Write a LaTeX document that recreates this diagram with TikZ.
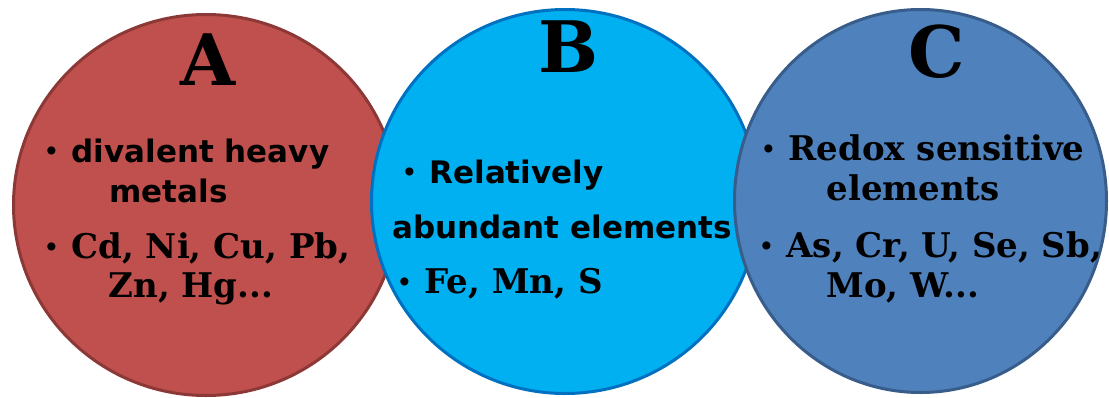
\documentclass[tikz,border=0pt]{standalone}
\usepackage{fontspec}
\setmainfont{DejaVu Serif}
\setsansfont{DejaVu Sans}
\usetikzlibrary{shapes.geometric}
\definecolor{afill}{HTML}{C0504D}
\definecolor{aline}{HTML}{8C3836}
\definecolor{bfill}{HTML}{00B0F0}
\definecolor{bline}{HTML}{0070C0}
\definecolor{cfill}{HTML}{4F81BD}
\definecolor{cline}{HTML}{385D8A}
\newcommand{\bul}{\llap{\makebox[0pt][c]{\raisebox{3pt}{\sffamily\bfseries\fontsize{23}{23}\selectfont\textbullet}}\hspace*{20pt}}}
\begin{document}
\begin{tikzpicture}[x=1pt,y=-1pt,line width=3pt,
  ell/.style={ellipse,draw,inner sep=0pt},
  hd/.style={anchor=base,inner sep=0pt,font=\bfseries\fontsize{71}{71}\selectfont},
  sl/.style={anchor=base west,inner sep=0pt,font=\sffamily\bfseries\fontsize{31}{31}\selectfont},
  rl/.style={anchor=base west,inner sep=0pt,font=\bfseries\fontsize{34}{34}\selectfont}]
  \useasboundingbox (0,0) rectangle (1109,397);
  \node[ell,fill=afill,draw=aline,minimum width=385,minimum height=381] (circA) at (206,205) {};
  \node[ell,fill=bfill,draw=bline,minimum width=387,minimum height=384] (circB) at (565,201.5) {};
  \node[ell,fill=cfill,draw=cline,minimum width=372,minimum height=383] (circC) at (920.5,201) {};
  % A
  \node[hd] (labA) at (208,85) {A};
  \node[sl] (a1) at (70,162) {\bul divalent heavy};
  \node[sl] (a2) at (108,202) {metals};
  \node[rl] (a3) at (70,258) {\bul Cd, Ni, Cu, Pb,};
  \node[rl] (a4) at (107,297) {Zn, Hg...};
  % B
  \node[hd] (labB) at (568,72) {B};
  \node[sl] (b1) at (428,183) {\bul Relatively};
  \node[sl] (b2) at (391,238) {abundant elements};
  \node[rl] (b3) at (423,293) {\bul Fe, Mn, S};
  % C
  \node[hd] (labC) at (937,77) {C};
  \node[rl] (c1) at (787,160) {\bul Redox sensitive};
  \node[rl] (c2) at (825,200) {elements};
  \node[rl] (c3) at (785,257) {\bul As, Cr, U, Se, Sb,};
  \node[rl] (c4) at (825,297) {Mo, W...};
\end{tikzpicture}
\end{document}
